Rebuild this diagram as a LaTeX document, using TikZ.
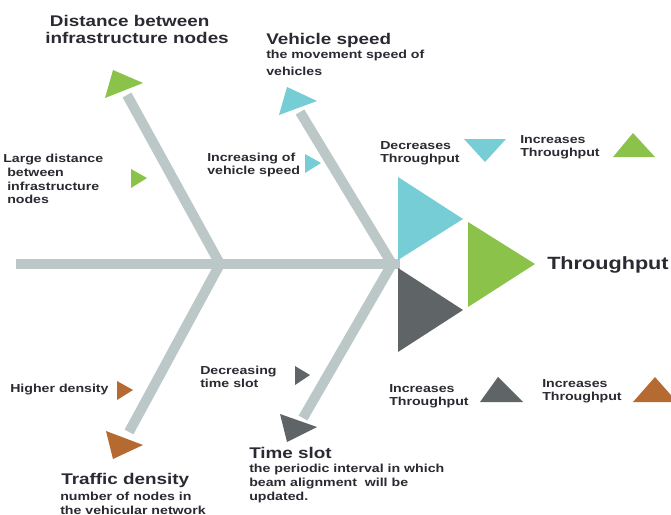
\documentclass[tikz,border=0pt]{standalone}
\usepackage{fontspec}
\setmainfont{Liberation Sans}[FakeStretch=1.22]
\definecolor{barC}{RGB}{188,200,200}
\definecolor{cyanT}{RGB}{118,205,214}
\definecolor{greenT}{RGB}{139,195,74}
\definecolor{darkT}{RGB}{95,101,102}
\definecolor{orangeT}{RGB}{181,106,50}
\definecolor{txt}{RGB}{42,42,50}
\begin{document}
\begin{tikzpicture}[x=0.75pt,y=-0.75pt,
  bone/.style={draw=barC,line width=7.5pt},
  hdr/.style={font=\bfseries\fontsize{11.6}{12.75}\selectfont,text=txt,inner sep=0pt,anchor=north west,align=left},
  lbl/.style={font=\bfseries\fontsize{8.7}{10.3}\selectfont,text=txt,inner sep=0pt,anchor=north west,align=left},
  big/.style={font=\bfseries\fontsize{13.3}{16}\selectfont,text=txt,inner sep=0pt,anchor=north west}]
\useasboundingbox (0,0) rectangle (671,514);
\clip (0,0) rectangle (671,514);
\fill[white] (0,0) rectangle (671,514);
% skeleton
\coordinate (tail) at (16,264);
\coordinate (head) at (400,264);
\coordinate (j1) at (220,264);
\coordinate (j2) at (392,264);
\coordinate (e1) at (127,95);
\coordinate (e2) at (300,112);
\coordinate (e3) at (129,432);
\coordinate (e4) at (303,418);
\draw[bone] (tail) -- (head);
\draw[bone] (j1) -- (e1);
\draw[bone] (j2) -- (e2);
\draw[bone] (j1) -- (e3);
\draw[bone] (j2) -- (e4);
% bone-end triangles
\fill[greenT] (105,98) -- (113,70) -- (143,83) -- cycle;
\fill[cyanT] (279,115) -- (287,87) -- (317,101) -- cycle;
\fill[orangeT] (106,431) -- (113,459) -- (143,445) -- cycle;
\fill[darkT] (280,414) -- (287,442) -- (317,427) -- cycle;
% small marker triangles
\fill[greenT] (131,169) -- (131,188) -- (147,178) -- cycle;
\fill[cyanT] (305,154) -- (305,173) -- (321,163) -- cycle;
\fill[orangeT] (117,381) -- (117,400) -- (133,390) -- cycle;
\fill[darkT] (295,366) -- (295,385) -- (310,375) -- cycle;
% head triangles
\fill[cyanT] (398,177) -- (398,260) -- (463,219) -- cycle;
\fill[greenT] (468,222) -- (468,307) -- (535,264) -- cycle;
\fill[darkT] (398,268) -- (398,352) -- (463,310) -- cycle;
% legend triangles
\fill[cyanT] (464,139) -- (506,139) -- (485,162) -- cycle;
\fill[greenT] (613,157) -- (655,157) -- (633,133) -- cycle;
\fill[darkT] (480,402) -- (523,402) -- (498,377) -- cycle;
\fill[orangeT] (633,402) -- (677,402) -- (655,377) -- cycle;
% texts
\node[hdr] (tdist) at (45,15) {\hspace*{3.5pt}Distance between\\infrastructure nodes};
\node[hdr] (tspeed) at (266,33) {Vehicle speed};
\node[lbl,font=\bfseries\fontsize{8.7}{12.75}\selectfont] (dspeed) at (266,50) {the movement speed of\\vehicles};
\node[lbl] (ldist) at (3,154) {Large distance\\\hspace*{3pt}between\\\hspace*{3pt}infrastructure\\\hspace*{3pt}nodes};
\node[lbl,font=\bfseries\fontsize{8.7}{9.6}\selectfont] (lspeed) at (207,153) {Increasing of\\vehicle speed};
\node[lbl] (leg1) at (380,141) {Decreases\\Throughput};
\node[lbl] (leg2) at (520,135) {Increases\\Throughput};
\node[big] (thr) at (547,256) {Throughput};
\node[lbl] (leg3) at (389,384) {Increases\\Throughput};
\node[lbl] (leg4) at (542,379) {Increases\\Throughput};
\node[lbl] (ldens) at (10,384) {Higher density};
\node[lbl,font=\bfseries\fontsize{8.7}{9.9}\selectfont] (lslot) at (200,366) {Decreasing\\time slot};
\node[hdr] (tslot) at (249,447) {Time slot};
\node[lbl] (dslot) at (249,464) {the periodic interval in which\\beam alignment\ \ will be\\updated.};
\node[hdr] (tdens) at (61,473) {Traffic density};
\node[lbl] (ddens) at (60,492) {number of nodes in\\the vehicular network};
\end{tikzpicture}
\end{document}
